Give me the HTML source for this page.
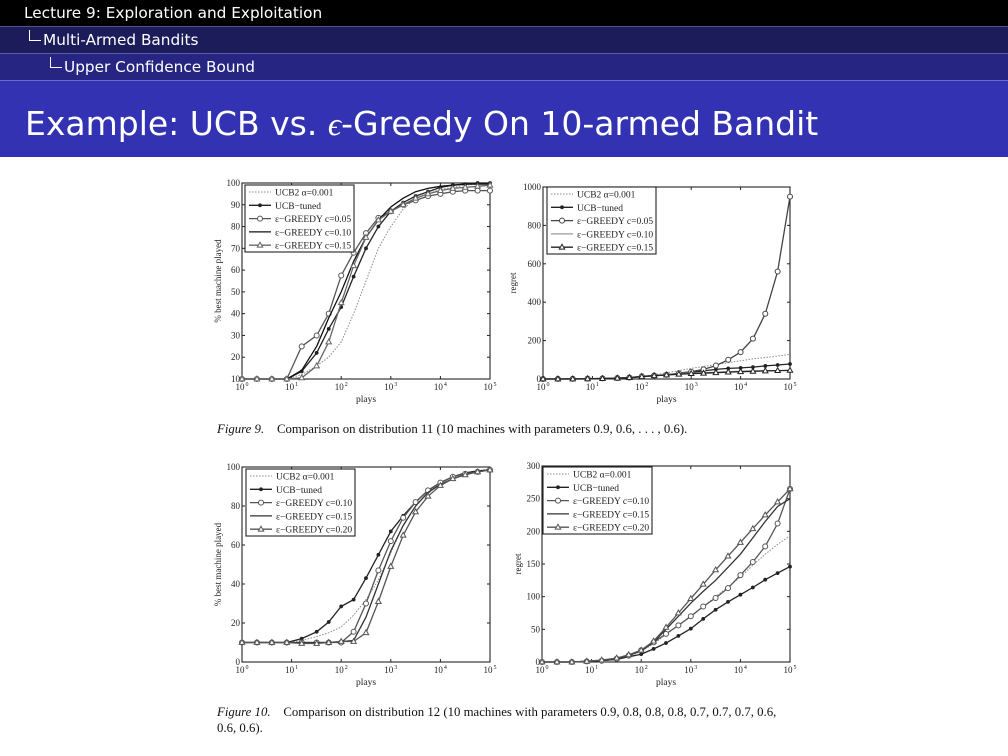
<!DOCTYPE html>
<html><head><meta charset="utf-8"><style>
body{margin:0;width:1008px;height:756px;overflow:hidden;background:#fff;font-family:"DejaVu Sans","Liberation Sans",sans-serif}
.bar{position:absolute;left:0;width:1008px;color:#fff;white-space:nowrap}
.cap{position:absolute;font-family:"Liberation Serif",serif;font-size:12.8px;color:#111;white-space:nowrap}
.corner{display:inline-block;width:11px;height:10px;border-left:1.3px solid #fff;border-bottom:1.3px solid #fff;margin-right:2px;vertical-align:4px}
</style></head><body>
<div class="bar" style="top:0;height:26px;background:#000;font-size:15.3px;line-height:26px;padding-left:24px;box-sizing:border-box">Lecture 9: Exploration and Exploitation</div>
<div class="bar" style="top:26px;height:27px;background:#1c1c5a;border-top:1px solid #55558a;font-size:15.3px;line-height:26px;padding-left:29px;box-sizing:border-box"><span class="corner"></span>Multi-Armed Bandits</div>
<div class="bar" style="top:53px;height:27px;background:#262682;border-top:1px solid #5a5aa8;font-size:15.3px;line-height:26px;padding-left:50px;box-sizing:border-box"><span class="corner"></span>Upper Confidence Bound</div>
<div class="bar" style="top:80px;height:77px;background:#3232b2;border-top:1px solid #6a6ad0;font-size:33px;line-height:86px;padding-left:25px;box-sizing:border-box">Example: UCB vs. <i style="font-family:'Liberation Serif',serif">ϵ</i>-Greedy On 10-armed Bandit</div>
<svg id="charts" width="1008" height="756" style="position:absolute;left:0;top:0" xmlns="http://www.w3.org/2000/svg"></svg>
<div class="cap" style="left:217px;top:422px"><i>Figure 9.</i>&nbsp;&nbsp;&nbsp; Comparison on distribution 11 (10 machines with parameters 0.9, 0.6, . . . , 0.6).</div>
<div class="cap" style="left:217px;top:704px;line-height:16px"><i>Figure 10.</i>&nbsp;&nbsp;&nbsp; Comparison on distribution 12 (10 machines with parameters 0.9, 0.8, 0.8, 0.8, 0.7, 0.7, 0.7, 0.6,<br>0.6, 0.6).</div>
<script>
const plays=[1,2,4,8,16,32,56,100,178,316,562,1000,1778,3162,5623,10000,17783,31623,56234,100000];
const xTickExps=[0,1,2,3,4,5];
// Chart 1 (% best, distribution 11)
const c1UCB2=[10,10,10,10,12,16,20,27,40,55,70,80,88,93,95,97,98,99,99.5,99.5];
const c1Tuned=[10,10,10,10,13.5,22,33,43,57,70,80,87,91,94,96,98,99,99.5,100,100];
const c1G05=[10,10,10,10,25,30,40,57.5,68,77,84,87,90,92,94,95,96,96.5,96.5,96.5];
const c1G10=[10,10,10,10,14,25,38,50,64,75,83,89,93,96,97.5,98.5,99,99.5,99.5,99.5];
const c1G15=[10,10,10,10,10.5,16,27,45,62,75,83,87,90,93,95,96.5,97.5,98,98.5,99];
const c1YTicks=[10,20,30,40,50,60,70,80,90,100];
// Chart 2 (regret, distribution 11)
const c2UCB2=[0,0,0,1,2,4,8,14,22,32,44,55,65,75,85,95,105,112,120,128];
const c2Tuned=[0,0,0,1,2,4,7,12,17,22,28,35,42,50,55,58,62,68,73,78];
const c2G05=[0,0.5,1,2,3,5,8,14,18,22,30,38,50,70,100,140,210,340,560,950];
const c2G10=[0,0,0,1,2,4,7,12,17,22,27,30,33,35,38,40,42,43,44,45];
const c2G15=[0,0,0,1,2,4,7,12,17,21,25,28,30,33,36,38,40,42,44,45];
const c2YTicks=[0,200,400,600,800,1000];
// Chart 3 (% best, distribution 12)
const c3UCB2=[10,10,10,10,11,13,15,18,24,32,42,56,70,80,87,92,95,97,98,99];
const c3Tuned=[10,10,10,10,12,15.5,20.5,28.5,32,43,55,67,75,82,88,92,95,97,98,98.5];
const c3G10=[10,10,10,10,10,10,10,10,15.5,30,47,62,74,82,88,92,95,96.5,97.5,98.5];
const c3G15=[10,10,10,10,10,10,10,10.5,11,23,40,57,70,80,87,91,94,96,97.5,98.5];
const c3G20=[10,10,10,10,9.5,9.5,10,10.5,10.5,15,31,49,65,77,85,90.5,94,96,97.5,98.5];
const c3YTicks=[0,20,40,60,80,100];
// Chart 4 (regret, distribution 12)
const c4UCB2=[0,0,0,1,2,5,9,16,28,42,56,70,85,100,115,130,148,165,180,193];
const c4Tuned=[0,0,0,1,2,4,8,12,20,29,40,51,66,80,92,103,114,126,136,146];
const c4G10=[0,0,0,1,2,5,10,18,30,43,56,70,85,98,113,133,153,177,212,265];
const c4G15=[0,0,0,1,2,5,10,17,30,50,70,90,108,125,145,165,190,215,238,250];
const c4G20=[0,0,0,1,3,6,11,18,32,53,75,97,119,141,162,183,204,225,245,265];
const c4YTicks=[0,50,100,150,200,250,300];

const NS="http://www.w3.org/2000/svg";
const svg=document.getElementById('charts');
function mk(tag,attrs,parent){const e=document.createElementNS(NS,tag);for(const k in attrs)e.setAttribute(k,attrs[k]);(parent||svg).appendChild(e);return e;}

function chart(id,box,ymin,ymax,yTicks,yLabel,series,legendBox){
  const g=mk('g',{});
  
  
  const X=v=>box.x0+(Math.log10(v))/5*(box.x1-box.x0);
  const Y=v=>box.y1-(v-ymin)/(ymax-ymin)*(box.y1-box.y0);
  const frame=mk('rect',{x:box.x0,y:box.y0,width:box.x1-box.x0,height:box.y1-box.y0,fill:'none',stroke:'#222','stroke-width':1.1},g);
  
  
  xTickExps.forEach(e=>{
    const x=X(Math.pow(10,e));
    mk('line',{x1:x,y1:box.y1,x2:x,y2:box.y1-3,stroke:'#222'},g);
    mk('line',{x1:x,y1:box.y0,x2:x,y2:box.y0+3,stroke:'#222'},g);
    const t=mk('text',{x:x-2,y:box.y1+11,'font-size':9,'font-family':'Liberation Serif,serif','text-anchor':'middle',fill:'#222'},g);
    t.textContent='10';
    
    
    const s=mk('text',{x:x+3.5,y:box.y1+7,'font-size':6,'font-family':'Liberation Serif,serif',fill:'#222'},g);
    s.textContent=String(e);
  });
  yTicks.forEach(v=>{
    const y=Y(v);
    mk('line',{x1:box.x0,y1:y,x2:box.x0+3,y2:y,stroke:'#222'},g);
    mk('line',{x1:box.x1,y1:y,x2:box.x1-3,y2:y,stroke:'#222'},g);
    const t=mk('text',{x:box.x0-2,y:y+3,'font-size':9,'font-family':'Liberation Serif,serif','text-anchor':'end',fill:'#222'},g);
    t.textContent=String(v);
    
    
  });
  const xl=mk('text',{x:(box.x0+box.x1)/2,y:box.y1+23,'font-size':9.5,'font-family':'Liberation Serif,serif','text-anchor':'middle',fill:'#222'},g);
  xl.textContent='plays';
  
  
  const cy=(box.y0+box.y1)/2, cx=box.x0-(ymax>=1000?27:21);
  const yl=mk('text',{x:cx,y:cy,'font-size':9,'font-family':'Liberation Serif,serif','text-anchor':'middle',fill:'#222',transform:`rotate(-90 ${cx} ${cy})`},g);
  yl.textContent=yLabel;
  
  
  series.forEach(s=>{
    const pts=plays.map((p,i)=>X(p).toFixed(1)+','+Y(s.vals[i]).toFixed(1)).join(' ');
    const pl=mk('polyline',{points:pts,fill:'none',stroke:s.color,'stroke-width':s.w||1.3,'stroke-dasharray':s.dash||''},g);
    
    
    if(s.marker) plays.forEach((p,i)=>marker(g,s.marker,X(p),Y(s.vals[i]),s.color));
  });
  const lg=mk('g',{},g);
  
  
  mk('rect',{x:legendBox.x,y:legendBox.y,width:109,height:67,fill:'#fff',stroke:'#222','stroke-width':1.1},lg);
  series.forEach((s,i)=>{
    const y=legendBox.y+7+i*13.3;
    mk('line',{x1:legendBox.x+4,y1:y,x2:legendBox.x+26,y2:y,stroke:s.color,'stroke-width':s.w||1.3,'stroke-dasharray':s.dash||''},lg);
    if(s.marker) marker(lg,s.marker,legendBox.x+15,y,s.color);
    const t=mk('text',{x:legendBox.x+30,y:y+3.5,'font-size':9.5,'font-family':'Liberation Serif,serif',fill:'#222'},lg);
    t.textContent=s.label;
    
    
  });
}
function marker(g,type,x,y,c){
  if(type==='star') mk('circle',{cx:x,cy:y,r:1.9,fill:c},g);
  else if(type==='circle') mk('circle',{cx:x,cy:y,r:2.5,fill:'#fff',stroke:c,'stroke-width':1},g);
  else if(type==='tri') mk('polygon',{points:`${x},${y-2.9} ${x-2.7},${y+1.9} ${x+2.7},${y+1.9}`,fill:'#fff',stroke:c,'stroke-width':1},g);
}
const L=(a,b)=>'ε−GREEDY c='+b;
chart('chart-fig9-best',{x0:242,x1:490,y0:183,y1:379},10,100,c1YTicks,'% best machine played',[
 {key:'ucb2',label:'UCB2 α=0.001',vals:c1UCB2,color:'#888',dash:'1.5,1.5',w:1},
 {key:'ucb-tuned',label:'UCB−tuned',vals:c1Tuned,color:'#222',marker:'star'},
 {key:'greedy-005',label:L(0,'0.05'),vals:c1G05,color:'#555',marker:'circle'},
 {key:'greedy-010',label:L(0,'0.10'),vals:c1G10,color:'#111'},
 {key:'greedy-015',label:L(0,'0.15'),vals:c1G15,color:'#666',marker:'tri'}],{x:245,y:185});
chart('chart-fig9-regret',{x0:543,x1:790,y0:187,y1:379},0,1000,c2YTicks,'regret',[
 {key:'ucb2',label:'UCB2 α=0.001',vals:c2UCB2,color:'#888',dash:'1.5,1.5',w:1},
 {key:'ucb-tuned',label:'UCB−tuned',vals:c2Tuned,color:'#222',marker:'star'},
 {key:'greedy-005',label:L(0,'0.05'),vals:c2G05,color:'#444',marker:'circle'},
 {key:'greedy-010',label:L(0,'0.10'),vals:c2G10,color:'#999'},
 {key:'greedy-015',label:L(0,'0.15'),vals:c2G15,color:'#222',marker:'tri'}],{x:547,y:187});
chart('chart-fig10-best',{x0:242,x1:490,y0:467,y1:662},0,100,c3YTicks,'% best machine played',[
 {key:'ucb2',label:'UCB2 α=0.001',vals:c3UCB2,color:'#888',dash:'1.5,1.5',w:1},
 {key:'ucb-tuned',label:'UCB−tuned',vals:c3Tuned,color:'#222',marker:'star'},
 {key:'greedy-010',label:L(0,'0.10'),vals:c3G10,color:'#555',marker:'circle'},
 {key:'greedy-015',label:L(0,'0.15'),vals:c3G15,color:'#333'},
 {key:'greedy-020',label:L(0,'0.20'),vals:c3G20,color:'#555',marker:'tri'}],{x:246,y:469});
chart('chart-fig10-regret',{x0:542,x1:790,y0:466,y1:662},0,300,c4YTicks,'regret',[
 {key:'ucb2',label:'UCB2 α=0.001',vals:c4UCB2,color:'#888',dash:'1.5,1.5',w:1},
 {key:'ucb-tuned',label:'UCB−tuned',vals:c4Tuned,color:'#222',marker:'star'},
 {key:'greedy-010',label:L(0,'0.10'),vals:c4G10,color:'#555',marker:'circle'},
 {key:'greedy-015',label:L(0,'0.15'),vals:c4G15,color:'#333'},
 {key:'greedy-020',label:L(0,'0.20'),vals:c4G20,color:'#555',marker:'tri'}],{x:543,y:467});
</script>
</body></html>
